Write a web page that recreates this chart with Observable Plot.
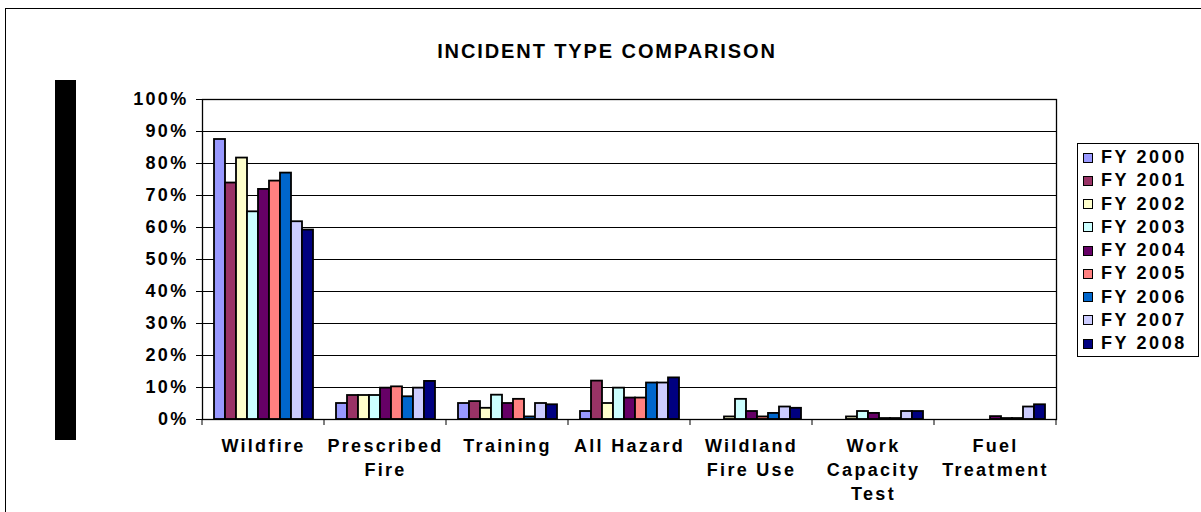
<!DOCTYPE html>
<html>
<head>
<meta charset="utf-8">
<script src="https://cdn.jsdelivr.net/npm/d3@7"></script>
<script src="https://cdn.jsdelivr.net/npm/@observablehq/plot@0.6"></script>
<style>
  body { margin: 0; background: #fff; }
  #wrap { position: relative; width: 1201px; height: 512px; overflow: hidden; font-family: "Liberation Sans", Arial, sans-serif; font-weight: bold; color: #000; }
  #border { position: absolute; left: 5px; top: 8px; width: 1220px; height: 540px; border: 1px solid #000; box-sizing: border-box; }
  #redact { position: absolute; left: 55px; top: 80px; width: 21px; height: 360px; background: #000; }
  #title { position: absolute; left: 0; width: 1214px; top: 40px; text-align: center; font-size: 20px; letter-spacing: 1.9px; }
  #chart { position: absolute; left: 0; top: 0; }
  #legend { position: absolute; left: 1077px; top: 143px; width: 122px; height: 214px; border: 1px solid #000; box-sizing: border-box; background: #fff; padding-top: 2px; }
  .item { height: 23.25px; display: flex; align-items: center; font-size: 18px; letter-spacing: 2.6px; white-space: nowrap; }
  .sw { width: 8px; height: 8px; border: 1px solid #000; margin-left: 5px; margin-right: 8px; flex: none; }
</style>
</head>
<body>
<div id="wrap">
  <div id="border"></div>
  <div id="redact"></div>
  <div id="title">INCIDENT TYPE COMPARISON</div>
  <div id="chart"></div>
  <div id="legend"></div>
</div>
<script>
// ---- data ----
const categories = ["Wildfire", "Prescribed Fire", "Training", "All Hazard", "Wildland Fire Use", "Work Capacity Test", "Fuel Treatment"];
const categoryLabels = ["Wildfire", "Prescribed\nFire", "Training", "All Hazard", "Wildland\nFire Use", "Work\nCapacity\nTest", "Fuel\nTreatment"];
const years = ["FY 2000", "FY 2001", "FY 2002", "FY 2003", "FY 2004", "FY 2005", "FY 2006", "FY 2007", "FY 2008"];
const yearColors = ["#9999FF", "#993366", "#FFFFCC", "#CCFFFF", "#660066", "#FF8080", "#0066CC", "#CCCCFF", "#000080"];
// percent of incidents, per category (same order as categories)
const fy2000 = [87.5, 5.0, 5.0, 2.5, 0, 0, 0];
const fy2001 = [73.9, 7.5, 5.6, 12.0, 0, 0, 0];
const fy2002 = [81.7, 7.5, 3.5, 5.0, 0.8, 0.8, 0];
const fy2003 = [64.9, 7.5, 7.6, 9.8, 6.3, 2.5, 0];
const fy2004 = [71.9, 9.8, 5.0, 6.7, 2.5, 1.9, 0.9];
const fy2005 = [74.5, 10.2, 6.3, 6.7, 0.8, 0.3, 0.3];
const fy2006 = [77.0, 7.1, 0.8, 11.4, 1.9, 0.3, 0.3];
const fy2007 = [61.8, 9.8, 5.0, 11.4, 3.9, 2.5, 3.9];
const fy2008 = [59.2, 11.9, 4.6, 13.0, 3.5, 2.5, 4.6];
const yTicks = [0, 0.1, 0.2, 0.3, 0.4, 0.5, 0.6, 0.7, 0.8, 0.9, 1.0];

const series = [fy2000, fy2001, fy2002, fy2003, fy2004, fy2005, fy2006, fy2007, fy2008];
const rows = years.flatMap((yr, i) => categories.map((c, j) => ({category: c, year: yr, value: series[i][j] / 100})));
const labelOf = new Map(categories.map((c, i) => [c, categoryLabels[i]]));

const plot = Plot.plot({
  width: 1201,
  height: 512,
  marginTop: 99,
  marginBottom: 93,
  marginLeft: 200,
  marginRight: 144,
  style: {fontFamily: "'Liberation Sans', Arial, sans-serif", fontSize: "18px", fontWeight: "bold", color: "#000", background: "transparent", letterSpacing: "2.3px", overflow: "visible"},
  fx: {domain: categories, padding: 0, axis: null},
  x: {domain: years, paddingInner: 0, paddingOuter: 0.65, axis: null},
  y: {domain: [0, 1], axis: null},
  color: {domain: years, range: yearColors},
  marks: [
    Plot.gridY(yTicks, {stroke: "#000", strokeOpacity: 1, strokeWidth: 1}),
    Plot.barY(rows, {fx: "category", x: "year", y: "value", fill: "year", stroke: "#000", strokeWidth: 1.8}),
    Plot.axisY(yTicks, {tickFormat: d3.format(".0%"), tickSize: 6, tickPadding: 8, label: null, stroke: "#000"}),
    Plot.axisFx({anchor: "bottom", tickSize: 0, tickPadding: 15, lineHeight: 1.35, tickFormat: (d) => labelOf.get(d), label: null}),
    Plot.frame({facet: "super", stroke: "#000", strokeWidth: 1.3})
  ]
});
document.getElementById("chart").appendChild(plot);

// category boundary tick marks below the x axis, positioned with the fx scale
const fx = plot.scale("fx");
const yS = plot.scale("y");
const y0 = yS.apply(0);
const edges = categories.map((c) => fx.apply(c)).concat([fx.apply(categories[categories.length - 1]) + fx.bandwidth]);
d3.select(plot).append("g").attr("stroke", "#000").attr("stroke-width", 1)
  .selectAll("line").data(edges).join("line")
  .attr("x1", (d) => d).attr("x2", (d) => d)
  .attr("y1", y0).attr("y2", y0 + 6);

// legend
const color = plot.scale("color");
const legend = d3.select("#legend");
years.forEach((yr) => {
  const it = legend.append("div").attr("class", "item");
  it.append("div").attr("class", "sw").style("background", color.apply(yr));
  it.append("span").text(yr);
});
</script>
</body>
</html>
